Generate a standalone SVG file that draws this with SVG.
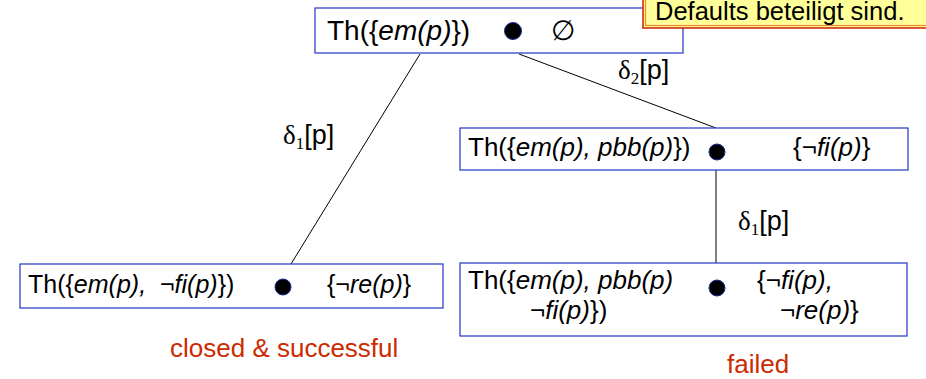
<svg xmlns="http://www.w3.org/2000/svg" width="926" height="379" viewBox="0 0 926 379">
  <style>
    .box { fill: #ffffff; stroke: #3344cc; stroke-width: 1.3; }
    .edge { stroke: #000000; stroke-width: 1; fill: none; }
    .t { font-family: "Liberation Sans", Arial, sans-serif; fill: #000000; }
    .it { font-style: italic; }
    .dot { fill: #000000; stroke: #1a2a9a; stroke-width: 1; }
    .lbl { font-family: "Liberation Sans", Arial, sans-serif; font-size: 27px; fill: #000000; }
    .greek { font-family: "Liberation Serif", "Times New Roman", serif; }
    .red { font-family: "Liberation Sans", Arial, sans-serif; font-size: 26px; fill: #cc2a00; }
  </style>

  <rect width="926" height="379" fill="#ffffff"/>

  <!-- connectors -->
  <g id="connectors">
    <line class="edge" x1="420" y1="54" x2="291" y2="264"/>
    <line class="edge" x1="519" y1="54" x2="716" y2="128"/>
    <line class="edge" x1="716" y1="170" x2="716" y2="263"/>
    <text class="lbl" x="283" y="144"><tspan class="greek">δ</tspan><tspan class="greek" font-size="17" dy="5">1</tspan><tspan dy="-5">[p]</tspan></text>
    <text class="lbl" x="618" y="79"><tspan class="greek">δ</tspan><tspan class="greek" font-size="17" dy="5">2</tspan><tspan dy="-5">[p]</tspan></text>
    <text class="lbl" x="738" y="230"><tspan class="greek">δ</tspan><tspan class="greek" font-size="17" dy="5">1</tspan><tspan dy="-5">[p]</tspan></text>
  </g>

  <!-- root -->
  <g id="root">
    <rect class="box" x="315" y="8" width="368" height="45"/>
    <text class="t" x="327" y="40" font-size="28">Th({<tspan class="it">em(p)</tspan>})</text>
    <circle class="dot" cx="513" cy="31" r="8.5"/>
    <text class="t" x="551" y="40" font-size="28">∅</text>
  </g>

  <!-- branch via delta2 -->
  <g id="node-em-pbb">
    <rect class="box" x="460" y="128" width="448" height="42"/>
    <text class="t" x="468" y="156" font-size="26">Th({<tspan class="it">em(p), pbb(p)</tspan>})</text>
    <circle class="dot" cx="717" cy="152" r="8"/>
    <text class="t" x="793" y="156" font-size="26">{¬<tspan class="it">fi(p)</tspan>}</text>
  </g>

  <!-- branch via delta1 -->
  <g id="node-em-notfi">
    <rect class="box" x="20" y="264" width="423" height="44"/>
    <text class="t" x="28" y="293" font-size="25" xml:space="preserve">Th({<tspan class="it">em(p),  </tspan>¬<tspan class="it">fi(p)</tspan>})</text>
    <circle class="dot" cx="283" cy="287" r="8"/>
    <text class="t" x="327" y="293" font-size="25">{¬<tspan class="it">re(p)</tspan>}</text>
  </g>

  <!-- failed leaf -->
  <g id="node-failed">
    <rect class="box" x="460" y="263" width="447" height="73"/>
    <text class="t" x="468" y="289" font-size="26">Th({<tspan class="it">em(p), pbb(p)</tspan></text>
    <text class="t" x="530" y="319" font-size="26">¬<tspan class="it">fi(p)</tspan>})</text>
    <circle class="dot" cx="717" cy="288" r="8"/>
    <text class="t" x="757" y="289" font-size="26">{¬<tspan class="it">fi(p),</tspan></text>
    <text class="t" x="780" y="319" font-size="26">¬<tspan class="it">re(p)</tspan>}</text>
  </g>

  <!-- outcome labels -->
  <text class="red" x="170" y="357">closed &amp; successful</text>
  <text class="red" x="727" y="373">failed</text>

  <!-- callout note -->
  <g id="callout">
    <rect x="643" y="-4" width="290" height="32" fill="#ffff99" stroke="#cc2200" stroke-width="1.5"/>
    <rect x="645.5" y="-4" width="290" height="29.5" fill="none" stroke="#ee8833" stroke-width="1.2"/>
    <text class="t" x="655" y="20" font-size="25.5">Defaults beteiligt sind.</text>
  </g>
</svg>
